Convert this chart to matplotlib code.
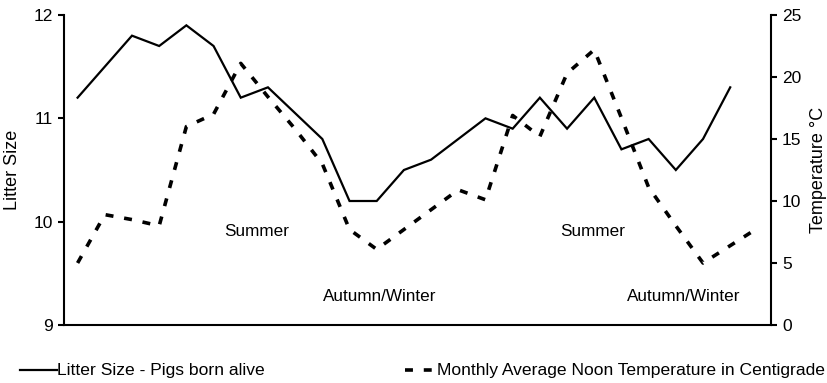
import matplotlib
matplotlib.use("Agg")
import matplotlib.pyplot as plt
from matplotlib.lines import Line2D

plt.rcParams['font.family'] = ['Liberation Sans', 'DejaVu Sans']

# Monthly observations (26 months)
months = list(range(1, 27))
litter_size = [11.2, 11.5, 11.8, 11.7, 11.9, 11.7, 11.2, 11.3, 11.05, 10.8,
               10.2, 10.2, 10.5, 10.6, 10.8, 11.0, 10.9, 11.2, 10.9, 11.2,
               10.7, 10.8, 10.5, 10.8, 11.3]
noon_temp = [5.0, 8.9, 8.5, 8.0, 16.0, 17.0, 21.1, 18.4, 15.8, 13.0,
             7.7, 6.1, 7.7, 9.3, 10.9, 10.1, 16.9, 15.2, 20.3, 22.2,
             16.7, 11.1, 8.0, 5.0, 6.4, 7.8]

left_ticks = [9, 10, 11, 12]
right_ticks = [0, 5, 10, 15, 20, 25]

season_labels = [("Summer", 7.6, 9.9), ("Autumn/Winter", 12.1, 9.28),
                 ("Summer", 19.95, 9.9), ("Autumn/Winter", 23.3, 9.28)]

W, H = 827, 383
fig = plt.figure(figsize=(W / 100, H / 100), dpi=100)
ax = fig.add_axes([64 / W, 1 - 325 / H, (771 - 64) / W, (325 - 15) / H])
ax2 = ax.twinx()

ax.plot(months[:len(litter_size)], litter_size, color='black', lw=1.6,
        solid_joinstyle='miter')
ax2.plot(months, noon_temp, color='black', lw=2.6, dashes=(2.2, 3.0),
         dash_capstyle='butt')

ax.set_xlim(0.5, 26.5)
ax.set_ylim(9, 12)
ax2.set_ylim(0, 25)
ax.set_yticks(left_ticks)
ax2.set_yticks(right_ticks)
ax.set_xticks([])

for a in (ax, ax2):
    for s in a.spines.values():
        s.set_linewidth(1.5)
    a.spines['top'].set_visible(False)
    a.tick_params(axis='y', length=4.5, width=1.5, pad=3.5, labelsize=12.5)
ax.spines['right'].set_visible(False)
ax2.spines['left'].set_visible(False)
ax2.spines['bottom'].set_visible(False)

ax.set_ylabel("Litter Size", fontsize=13, va='center')
ax.yaxis.set_label_coords(-0.0735, 0.5)
ax2.set_ylabel("Temperature °C", fontsize=13, va='center')
ax2.yaxis.set_label_coords(1.0665, 0.5)

for txt, x, y in season_labels:
    ax.text(x, y, txt, ha='center', va='center', fontsize=12.3)

# Legend row below the plot
ly = 1 - 370 / H
fig.add_artist(Line2D([20 / W, 57 / W], [ly, ly], transform=fig.transFigure,
                      color='black', lw=1.6))
fig.text(57 / W, ly, "Litter Size - Pigs born alive", va='center', ha='left',
         fontsize=12.6)
fig.add_artist(Line2D([405 / W, 435 / W], [ly, ly], transform=fig.transFigure,
                      color='black', lw=2.6, dashes=(2.2, 3.0),
                      dash_capstyle='butt'))
fig.text(437 / W, ly, "Monthly Average Noon Temperature in Centigrade",
         va='center', ha='left', fontsize=12.6)

fig.savefig("out.png", dpi=100)
